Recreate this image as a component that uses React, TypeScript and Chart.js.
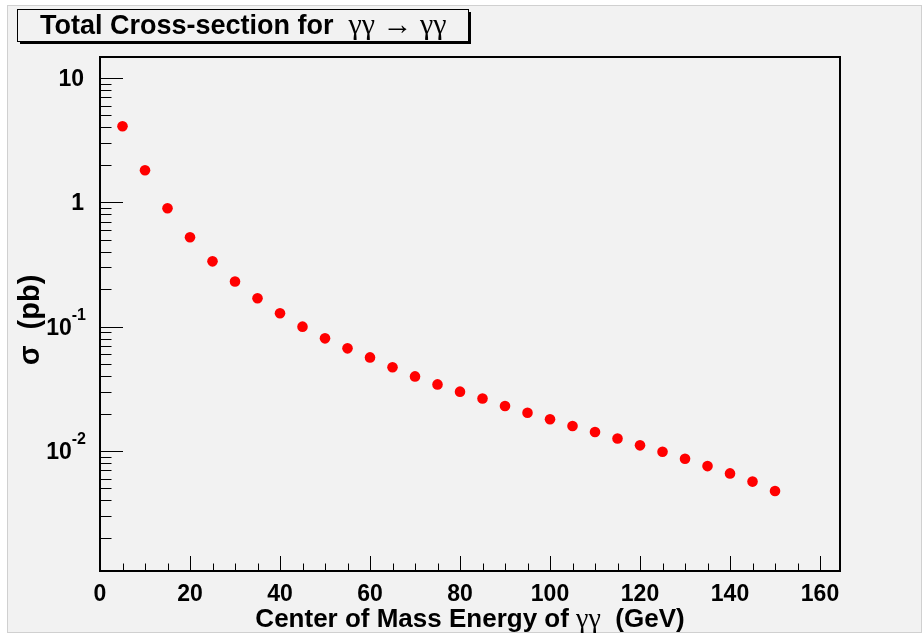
import React, { useEffect, useRef } from "react";
import { Chart, registerables } from "chart.js";

Chart.register(...registerables);

// Centre-of-mass energy of the photon pair (GeV)
const energies = [
  5, 10, 15, 20, 25, 30, 35, 40, 45, 50, 55, 60, 65, 70, 75, 80, 85, 90, 95,
  100, 105, 110, 115, 120, 125, 130, 135, 140, 145, 150,
];

// Total cross-section sigma (pb)
const crossSections = [
  4.09, 1.81, 0.895, 0.523, 0.335, 0.231, 0.169, 0.128, 0.1, 0.0805, 0.0669,
  0.0566, 0.0471, 0.0398, 0.0343, 0.03, 0.0264, 0.023, 0.0203, 0.018, 0.0159,
  0.0142, 0.0126, 0.0111, 0.00986, 0.00867, 0.00756, 0.0066, 0.00567, 0.00476,
];

const xMajorTicks = [0, 20, 40, 60, 80, 100, 120, 140, 160];
const xTickLabels = ["0", "20", "40", "60", "80", "100", "120", "140", "160"];
const yMajorTicks = [0.01, 0.1, 1, 10];
const yTickBase = ["10", "10", "1", "10"];
const yTickExp = ["-2", "-1", "", ""];

const titleText = "Total Cross-section for";
const titleMath = "\u03b3\u03b3 \u2192 \u03b3\u03b3";
const xTitleText = "Center of Mass Energy of";
const xTitleMath = "\u03b3\u03b3";
const xTitleUnit = "(GeV)";
const yTitleText = "\u03c3  (pb)";

const X_MIN = 0;
const X_MAX = 164.44;
const Y_MIN = 0.001083;
const Y_MAX = 14.75;

const SANS = "'Liberation Sans', Arial, sans-serif";
const SERIF = "'Liberation Serif', 'Times New Roman', serif";
const BG = "#f2f2f2";

function textW(ctx: CanvasRenderingContext2D, t: string, font: string) {
  ctx.font = font;
  return ctx.measureText(t).width;
}

const rootStyle = {
  id: "rootStyle",
  beforeDraw(chart: any) {
    const ctx: CanvasRenderingContext2D = chart.ctx;
    const W = chart.width;
    const H = chart.height;
    ctx.save();
    ctx.fillStyle = "#ffffff";
    ctx.fillRect(0, 0, W, H);
    ctx.fillStyle = BG;
    ctx.fillRect(7, 5, W - 8, H - 6);
    ctx.strokeStyle = "#d0d0d0";
    ctx.lineWidth = 1;
    ctx.strokeRect(7.5, 5.5, W - 8, H - 6);

    // title box with drop shadow
    const bx = 17, by = 9, bw = 451, bh = 32;
    ctx.fillStyle = "#000";
    ctx.fillRect(bx + 3, by + 3, bw, bh);
    ctx.fillStyle = BG;
    ctx.fillRect(bx, by, bw, bh);
    ctx.strokeStyle = "#000";
    ctx.lineWidth = 1;
    ctx.strokeRect(bx + 0.5, by + 0.5, bw, bh);

    const fSans = `bold 27px ${SANS}`;
    const fSerif = `30px ${SERIF}`;
    const gap = 15;
    const w1 = textW(ctx, titleText, fSans);
    const tx = 40;
    ctx.fillStyle = "#000";
    ctx.textBaseline = "alphabetic";
    ctx.textAlign = "left";
    ctx.font = fSans;
    ctx.fillText(titleText, tx, 34);
    ctx.font = fSerif;
    ctx.fillText(titleMath, tx + w1 + gap, 34);
    ctx.restore();
  },
  beforeDatasetsDraw(chart: any) {
    const ctx: CanvasRenderingContext2D = chart.ctx;
    const a = chart.chartArea;
    const xs = chart.scales.x;
    const ys = chart.scales.y;
    ctx.save();
    ctx.strokeStyle = "#000";
    ctx.lineWidth = 1;

    // x axis ticks (major every 20, minor every 5)
    ctx.beginPath();
    for (let v = 0; v <= X_MAX; v += 5) {
      const px = Math.round(xs.getPixelForValue(v)) + 0.5;
      const len = v % 20 === 0 ? 15 : 7.5;
      ctx.moveTo(px, a.bottom);
      ctx.lineTo(px, a.bottom - len);
    }
    // y axis ticks (log decades with 2..9 subdivisions)
    for (let d = -3; d <= 1; d++) {
      for (let m = 1; m <= 9; m++) {
        const v = m * Math.pow(10, d);
        if (v < Y_MIN || v > Y_MAX) continue;
        const py = Math.round(ys.getPixelForValue(v)) + 0.5;
        const len = m === 1 ? 23 : 11.5;
        ctx.moveTo(a.left, py);
        ctx.lineTo(a.left + len, py);
      }
    }
    ctx.stroke();

    // frame
    ctx.lineWidth = 2;
    ctx.strokeRect(a.left, a.top, a.right - a.left, a.bottom - a.top);

    // x tick labels
    ctx.fillStyle = "#000";
    ctx.font = `bold 23px ${SANS}`;
    ctx.textAlign = "center";
    ctx.textBaseline = "alphabetic";
    xMajorTicks.forEach((v, i) => {
      ctx.fillText(xTickLabels[i], xs.getPixelForValue(v), 601);
    });

    // y tick labels, with exponents as superscripts
    yMajorTicks.forEach((v, i) => {
      const py = ys.getPixelForValue(v);
      const base = yTickBase[i];
      const exp = yTickExp[i];
      const fBase = `bold 23px ${SANS}`;
      const fExp = `bold 16px ${SANS}`;
      ctx.textAlign = "left";
      if (exp) {
        const we = textW(ctx, exp, fExp);
        const wb = textW(ctx, base, fBase);
        const right = 86;
        ctx.font = fBase;
        ctx.fillText(base, right - we - wb, py + 8);
        ctx.font = fExp;
        ctx.fillText(exp, right - we, py - 7);
      } else {
        const wb = textW(ctx, base, fBase);
        ctx.font = fBase;
        ctx.fillText(base, 84 - wb, py + 8);
      }
    });

    // x axis title
    const fT = `bold 26px ${SANS}`;
    const fM = `28px ${SERIF}`;
    const w1 = textW(ctx, xTitleText + " ", fT);
    const w2 = textW(ctx, xTitleMath, fM);
    const w3 = textW(ctx, "  " + xTitleUnit, fT);
    const cx = (a.left + a.right) / 2;
    const x0 = cx - (w1 + w2 + w3) / 2;
    ctx.font = fT;
    ctx.fillText(xTitleText + " ", x0, 627);
    ctx.font = fM;
    ctx.fillText(xTitleMath, x0 + w1, 627);
    ctx.font = fT;
    ctx.fillText("  " + xTitleUnit, x0 + w1 + w2, 627);

    // y axis title
    ctx.save();
    ctx.translate(39, (a.top + a.bottom) / 2 + 6);
    ctx.rotate(-Math.PI / 2);
    ctx.font = `bold 29px ${SANS}`;
    ctx.textAlign = "center";
    ctx.fillText(yTitleText, 0, 0);
    ctx.restore();

    ctx.restore();
  },
};

export default function App() {
  const ref = useRef<HTMLCanvasElement | null>(null);

  useEffect(() => {
    document.body.style.margin = "0";
    const canvas = ref.current;
    if (!canvas) return;
    const chart = new Chart(canvas, {
      type: "scatter",
      data: {
        datasets: [
          {
            label: "sigma",
            data: energies.map((e, i) => ({ x: e, y: crossSections[i] })),
            backgroundColor: "#ff0000",
            borderWidth: 0,
            pointRadius: 5.3,
            pointHoverRadius: 5.3,
          },
        ],
      },
      options: {
        animation: false,
        responsive: false,
        devicePixelRatio: 1,
        events: [],
        layout: { padding: { left: 100, top: 57, right: 82, bottom: 62 } },
        plugins: {
          legend: { display: false },
          title: { display: false },
          tooltip: { enabled: false },
        },
        scales: {
          x: { type: "linear", min: X_MIN, max: X_MAX, display: false },
          y: { type: "logarithmic", min: Y_MIN, max: Y_MAX, display: false },
        },
      },
      plugins: [rootStyle],
    });
    return () => chart.destroy();
  }, []);

  return (
    <div style={{ width: 922, height: 633 }}>
      <canvas ref={ref} width={922} height={633} style={{ display: "block" }} />
    </div>
  );
}
